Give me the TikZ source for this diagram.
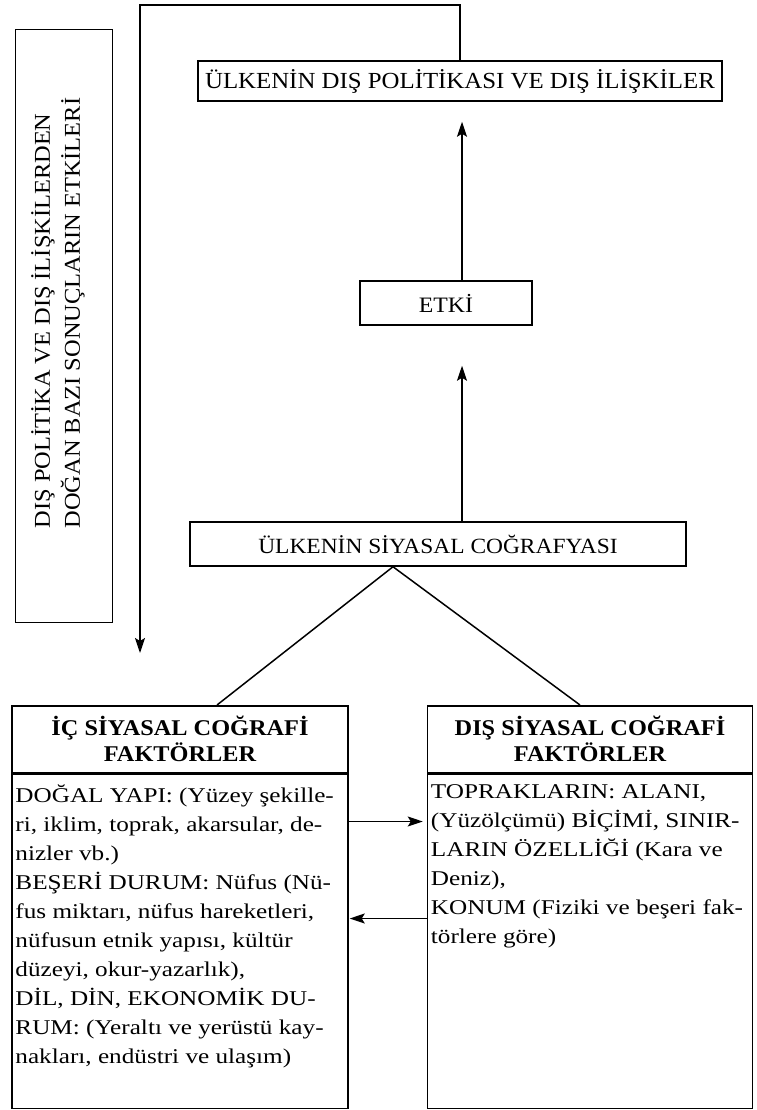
\documentclass[tikz,border=0pt]{standalone}
\usepackage{fontspec}
\setmainfont[FakeStretch=1.08]{Liberation Serif}
\newfontfamily\bodyfont[FakeStretch=1.2]{Liberation Serif}
\usetikzlibrary{positioning, arrows.meta}

\begin{document}
\begin{tikzpicture}[
    % GLOBAL CFG
    x=1pt, y=-1pt,
    font=\fontsize{23}{29}\selectfont,
    >={Stealth[length=15pt, width=10pt, inset=3pt]},
    % Styles
    plainbox/.style={
        rectangle,
        draw,
        line width=1.5pt,
        inner sep=0pt,
    },
    headbox/.style={
        plainbox,
        align=center,
        font=\fontsize{22.5}{26}\selectfont\bfseries,
    },
    bodytext/.style={
        align=left,
        inner xsep=4pt,
        inner ysep=0pt,
        font=\bodyfont\fontsize{21}{29}\selectfont,
    },
    ArrowC1/.style={
        line width=1.5pt,
    },
]
\useasboundingbox (0,0) rectangle (756,1110);

% Draw the main chain of boxes
    \node [plainbox, minimum width=524pt, minimum height=40pt] (dispol) at (460,81) {ÜLKENİN DIŞ POLİTİKASI VE DIŞ İLİŞKİLER};
    \node [plainbox, minimum width=172pt, minimum height=44pt, font=\fontsize{22}{26}\selectfont] (etki) at (446,303) {ETKİ};
    \node [plainbox, minimum width=496pt, minimum height=44pt, font=\fontsize{21.7}{26}\selectfont] (siyasal) at (438,544) {ÜLKENİN SİYASAL COĞRAFYASI};

% Draw the rotated side box
    \node [plainbox, minimum width=97pt, minimum height=593pt] (etkiler) at (64,326) {};
    \node [rotate=90, align=left, font=\fontsize{22.6}{30}\selectfont] (etkilertext) at (58,313) {DIŞ POLİTİKA VE DIŞ İLİŞKİLERDEN\\DOĞAN BAZI SONUÇLARIN ETKİLERİ};

% Draw factor boxes named ic# and dis#
    \node [headbox, minimum width=336pt, minimum height=67pt, anchor=north] (ichead) at (180,705) {İÇ SİYASAL COĞRAFİ\\FAKTÖRLER};
    \node [plainbox, minimum width=336pt, minimum height=334pt, below=0pt of ichead] (icbody) {};
    \node [bodytext, anchor=north west] (ictext) at ([yshift=-11pt]icbody.north west) {DOĞAL YAPI: (Yüzey şekille-\\
        ri, iklim, toprak, akarsular, de-\\
        nizler vb.)\\
        BEŞERİ DURUM: Nüfus (Nü-\\
        fus miktarı, nüfus hareketleri,\\
        nüfusun etnik yapısı, kültür\\
        düzeyi, okur-yazarlık),\\
        DİL, DİN, EKONOMİK DU-\\
        RUM: (Yeraltı ve yerüstü kay-\\
        nakları, endüstri ve ulaşım)};

    \node [headbox, minimum width=325pt, minimum height=67pt, anchor=north] (dishead) at (590,705) {DIŞ SİYASAL COĞRAFİ\\FAKTÖRLER};
    \node [plainbox, minimum width=325pt, minimum height=334pt, below=0pt of dishead] (disbody) {};
    \node [bodytext, anchor=north west] (distext) at ([yshift=-11pt]disbody.north west) {TOPRAKLARIN: ALANI,\\
        (Yüzölçümü) BİÇİMİ, SINIR-\\
        LARIN ÖZELLİĞİ (Kara ve\\
        Deniz),\\
        KONUM (Fiziki ve beşeri fak-\\
        törlere göre)};

% Helper coordinates
    \coordinate (axis) at (462,0);
    \coordinate (fbcorner) at (140,5);

% Connect all
    \draw [->, ArrowC1, shorten >=40pt] (siyasal.north -| axis) -- (etki.south -| axis);
    \draw [->, ArrowC1, shorten >=20pt] (etki.north -| axis) -- (dispol.south -| axis);
    \draw [->, ArrowC1, shorten >=52pt] (dispol.north) |- (fbcorner) -- (fbcorner |- ichead.north);

    \draw [ArrowC1] ([xshift=-45pt]siyasal.south) -- ([xshift=37pt]ichead.north);
    \draw [ArrowC1] ([xshift=-45pt]siyasal.south) -- ([xshift=-10pt]dishead.north);

    \draw [->, ArrowC1, shorten >=4pt] ([yshift=-48pt]icbody.north east) -- ([yshift=-48pt]disbody.north west);
    \draw [->, ArrowC1, shorten >=1pt] ([yshift=-145pt]disbody.north west) -- ([yshift=-145pt]icbody.north east);

\end{tikzpicture}
\end{document}
